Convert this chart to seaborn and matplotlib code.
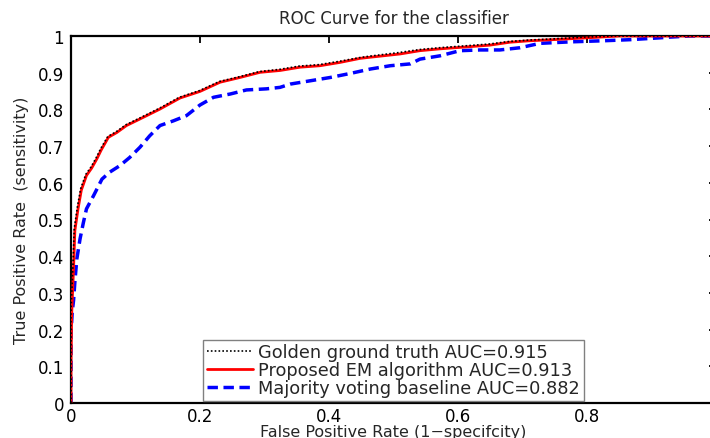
import numpy as np
import pandas as pd
import matplotlib
matplotlib.use("Agg")
import matplotlib.pyplot as plt
import seaborn as sns

# ---- data ----
em_fpr = [0.0, 0.0, 0.001, 0.004, 0.006, 0.011, 0.016, 0.024, 0.032, 0.040, 0.047, 0.058, 0.071,
          0.086, 0.107, 0.138, 0.169, 0.200, 0.231, 0.262, 0.293, 0.324, 0.355, 0.386, 0.417,
          0.448, 0.463, 0.510, 0.541, 0.572, 0.603, 0.649, 0.680, 0.711, 0.747, 0.800, 0.850, 1.0]
em_tpr = [0.0, 0.10, 0.24, 0.37, 0.47, 0.53, 0.58, 0.62, 0.64, 0.665, 0.69, 0.724, 0.737,
          0.756, 0.774, 0.801, 0.831, 0.849, 0.874, 0.887, 0.901, 0.906, 0.915, 0.919, 0.928,
          0.939, 0.942, 0.951, 0.960, 0.965, 0.969, 0.975, 0.983, 0.987, 0.990, 0.995, 1.0, 1.0]

gt_fpr = [0.0, 0.0, 0.0, 0.003, 0.005, 0.010, 0.015, 0.023, 0.031, 0.039, 0.046, 0.057, 0.070,
          0.085, 0.106, 0.137, 0.168, 0.199, 0.230, 0.261, 0.292, 0.323, 0.354, 0.385, 0.416,
          0.447, 0.463, 0.509, 0.540, 0.571, 0.602, 0.648, 0.679, 0.710, 0.746, 0.795, 0.845, 1.0]
gt_tpr = [0.0, 0.10, 0.25, 0.375, 0.475, 0.535, 0.584, 0.623, 0.643, 0.668, 0.693, 0.726, 0.739,
          0.758, 0.776, 0.803, 0.833, 0.851, 0.876, 0.889, 0.903, 0.909, 0.918, 0.922, 0.931,
          0.941, 0.945, 0.955, 0.963, 0.968, 0.972, 0.978, 0.985, 0.989, 0.992, 0.997, 1.0, 1.0]

mv_fpr = [0.0, 0.0, 0.002, 0.004, 0.006, 0.009, 0.014, 0.019, 0.024, 0.035, 0.048, 0.060, 0.076,
          0.091, 0.107, 0.122, 0.138, 0.159, 0.179, 0.200, 0.221, 0.247, 0.272, 0.303, 0.324,
          0.340, 0.371, 0.402, 0.433, 0.464, 0.495, 0.526, 0.541, 0.572, 0.603, 0.634, 0.665,
          0.696, 0.727, 0.774, 0.825, 0.867, 0.913, 0.929, 0.960, 1.0]
mv_tpr = [0.0, 0.19, 0.25, 0.28, 0.33, 0.392, 0.447, 0.49, 0.529, 0.565, 0.610, 0.629, 0.647,
          0.669, 0.697, 0.728, 0.756, 0.769, 0.783, 0.812, 0.833, 0.842, 0.853, 0.856, 0.860,
          0.869, 0.878, 0.887, 0.898, 0.910, 0.919, 0.924, 0.937, 0.946, 0.960, 0.962, 0.962,
          0.968, 0.980, 0.984, 0.987, 0.990, 0.995, 0.997, 1.0, 1.0]

labels = ["Golden ground truth AUC=0.915",
          "Proposed EM algorithm AUC=0.913",
          "Majority voting baseline AUC=0.882"]
x_ticks = [0, 0.2, 0.4, 0.6, 0.8, 1.0]
x_ticklabels = ["0", "0.2", "0.4", "0.6", "0.8", ""]
y_ticks = [0, 0.1, 0.2, 0.3, 0.4, 0.5, 0.6, 0.7, 0.8, 0.9, 1.0]
y_ticklabels = ["0", "0.1", "0.2", "0.3", "0.4", "0.5", "0.6", "0.7", "0.8", "0.9", "1"]

sns.set_style("white")
plt.rcParams["font.family"] = ["DejaVu Sans"]

fig = plt.figure(figsize=(7.10, 4.39), dpi=100)
ax = fig.add_axes([71 / 710, 35 / 439, 645 / 710, 367 / 439])

gt = pd.DataFrame({"fpr": gt_fpr, "tpr": gt_tpr})
em = pd.DataFrame({"fpr": em_fpr, "tpr": em_tpr})
mv = pd.DataFrame({"fpr": mv_fpr, "tpr": mv_tpr})

sns.lineplot(data=gt, x="fpr", y="tpr", ax=ax, estimator=None, sort=False,
             color="black", linewidth=1.2, linestyle=(0, (1, 1.3)), label=labels[0], zorder=4)
sns.lineplot(data=em, x="fpr", y="tpr", ax=ax, estimator=None, sort=False,
             color="#ff0000", linewidth=2.0, label=labels[1], zorder=3)
sns.lineplot(data=mv, x="fpr", y="tpr", ax=ax, estimator=None, sort=False,
             color="#0000ff", linewidth=2.5, linestyle=(0, (3, 1.6)), label=labels[2], zorder=2)

ax.set_xlim(0, 1)
ax.set_ylim(0, 1)
ax.set_xticks(x_ticks)
ax.set_xticklabels(x_ticklabels)
ax.set_yticks(y_ticks)
ax.set_yticklabels(y_ticklabels)
ax.tick_params(direction="in", length=5, width=1.3, top=True, right=True,
               labelsize=12, pad=3, colors="black")
ax.tick_params(axis="y", pad=5)
for s in ax.spines.values():
    s.set_linewidth(1.6)
    s.set_color("black")

ax.set_xlabel("False Positive Rate (1\u2212specifcity)", fontsize=11.5)
ax.xaxis.set_label_coords(0.5, -21 / 367)
ax.set_ylabel("True Positive Rate  (sensitivity)", fontsize=11.5, labelpad=6)
ax.set_title("ROC Curve for the classifier", fontsize=12, pad=9)

leg = ax.legend(loc="lower left", bbox_to_anchor=(0.205, 0.006), fontsize=12.8,
                frameon=True, fancybox=False, edgecolor="#808080", framealpha=1,
                handlelength=2.6, handletextpad=0.3, borderpad=0.2, labelspacing=0.0,
                borderaxespad=0)
leg.get_frame().set_linewidth(1.0)

fig.savefig("out.png", dpi=100)
